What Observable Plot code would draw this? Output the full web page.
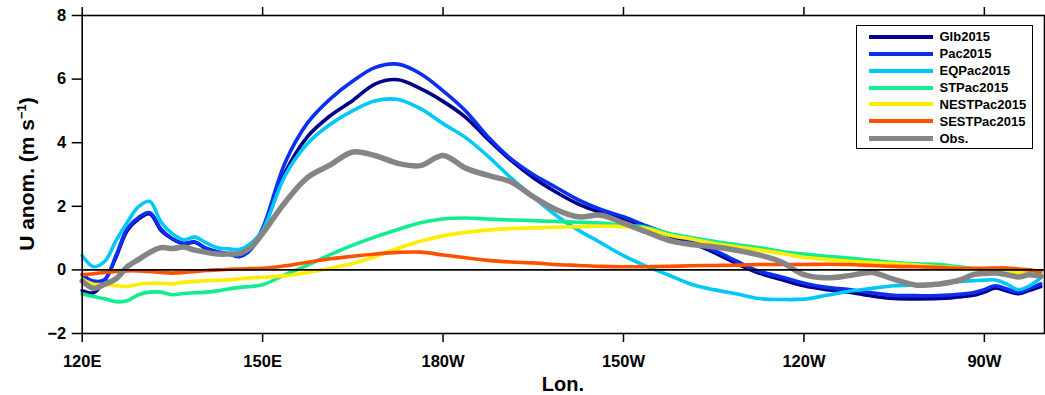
<!DOCTYPE html>
<html>
<head>
<meta charset="utf-8">
<script src="https://cdn.jsdelivr.net/npm/d3@7"></script>
<script src="https://cdn.jsdelivr.net/npm/@observablehq/plot@0.6"></script>
<style>
  body { margin: 0; background: #fff; }
  #wrap { position: relative; width: 1045px; height: 395px; font-family: "Liberation Sans", Arial, sans-serif; font-weight: bold; }
  #legend { position: absolute; left: 856px; top: 25px; width: 175px; height: 122px; border: 1.5px solid #000; background: #fff; }
  .row { position: absolute; left: 11.5px; height: 17px; display: flex; align-items: center; }
  .sw { width: 64px; height: 4px; margin-right: 7px; }
  .lb { font-size: 13px; color: #000; }
</style>
</head>
<body>
<div id="wrap"><div id="legend"></div></div>
<script>
const lon = [120, 121.875, 123.75, 125.625, 127.5, 129.375, 131.25, 133.125, 135, 136.875, 138.75, 140.625, 142.5, 144.375, 146.25, 148.125, 150,
  153.75, 157.5, 161.25, 165, 168.75, 172.5, 176.25, 180, 183.75, 187.5, 191.25, 195, 198.75, 202.5, 206.25, 210, 213.75, 217.5, 221.25, 225, 228.75, 232.5, 236.25, 240, 243.75, 247.5, 251.25, 255, 258.75, 262.5,
  264.375, 266.25, 268.125, 270, 271.875, 273.75, 275.625, 277.5, 279.375];

const glb2015 = [-0.65, -0.72, -0.34, 0.4, 1.24, 1.6, 1.76, 1.24, 0.97, 0.82, 0.87, 0.66, 0.55, 0.5, 0.45, 0.68, 1.3,
  3.07, 4.2, 4.85, 5.33, 5.85, 5.98, 5.7, 5.3, 4.8, 4.1, 3.45, 2.9, 2.45, 2.07, 1.8, 1.57, 1.33, 1.08, 0.85, 0.55, 0.2, -0.1, -0.3, -0.5, -0.62, -0.7, -0.82, -0.9, -0.91, -0.9,
  -0.88, -0.84, -0.8, -0.7, -0.57, -0.66, -0.75, -0.64, -0.52];
const pac2015 = [-0.15, -0.35, -0.3, 0.45, 1.3, 1.65, 1.8, 1.28, 0.98, 0.84, 0.88, 0.68, 0.57, 0.5, 0.42, 0.66, 1.3,
  3.38, 4.63, 5.38, 5.94, 6.37, 6.47, 6.17, 5.63, 5.0, 4.18, 3.5, 3.0, 2.6, 2.2, 1.9, 1.67, 1.39, 1.13, 0.9, 0.62, 0.28, -0.04, -0.22, -0.42, -0.55, -0.62, -0.72, -0.8, -0.81, -0.81,
  -0.79, -0.76, -0.72, -0.62, -0.5, -0.6, -0.7, -0.58, -0.44];
const eqpac2015 = [0.45, 0.1, 0.27, 0.92, 1.5, 1.99, 2.15, 1.5, 1.14, 0.95, 1.03, 0.85, 0.7, 0.66, 0.65, 0.85, 1.25,
  2.97, 3.98, 4.58, 5.01, 5.32, 5.36, 5.07, 4.6, 4.16, 3.57, 2.9, 2.3, 1.72, 1.25, 0.85, 0.45, 0.12, -0.16, -0.45, -0.62, -0.75, -0.9, -0.93, -0.92, -0.8, -0.67, -0.58, -0.5, -0.47, -0.44,
  -0.4, -0.36, -0.34, -0.32, -0.32, -0.45, -0.62, -0.5, -0.25];
const stpac2015 = [-0.75, -0.84, -0.91, -1.0, -0.97, -0.78, -0.7, -0.7, -0.78, -0.74, -0.72, -0.7, -0.66, -0.6, -0.55, -0.52, -0.47,
  -0.15, 0.15, 0.48, 0.78, 1.04, 1.27, 1.48, 1.6, 1.63, 1.6, 1.57, 1.55, 1.52, 1.5, 1.47, 1.4, 1.34, 1.15, 1.02, 0.9, 0.8, 0.7, 0.58, 0.5, 0.43, 0.37, 0.3, 0.23, 0.19, 0.17,
  0.13, 0.09, 0.04, 0.02, 0.0, -0.01, -0.02, -0.03, -0.05];
const nestpac2015 = [-0.3, -0.45, -0.46, -0.49, -0.52, -0.45, -0.42, -0.42, -0.44, -0.39, -0.36, -0.34, -0.33, -0.31, -0.28, -0.25, -0.23,
  -0.18, -0.08, 0.05, 0.2, 0.42, 0.68, 0.9, 1.07, 1.18, 1.25, 1.3, 1.32, 1.34, 1.36, 1.38, 1.36, 1.3, 1.1, 0.97, 0.83, 0.73, 0.63, 0.52, 0.4, 0.33, 0.27, 0.23, 0.2, 0.15, 0.1,
  0.08, 0.05, 0.02, -0.02, -0.07, -0.08, -0.09, -0.1, -0.1];
const sestpac2015 = [-0.15, -0.12, -0.08, -0.05, -0.03, -0.03, -0.05, -0.08, -0.1, -0.08, -0.05, -0.02, 0.0, 0.02, 0.03, 0.04, 0.05,
  0.13, 0.24, 0.35, 0.43, 0.5, 0.55, 0.56, 0.47, 0.38, 0.3, 0.25, 0.22, 0.17, 0.14, 0.11, 0.1, 0.1, 0.11, 0.13, 0.14, 0.15, 0.17, 0.17, 0.17, 0.18, 0.17, 0.14, 0.11, 0.1, 0.08,
  0.06, 0.05, 0.05, 0.05, 0.06, 0.06, 0.03, 0.0, -0.06];
const obs = [-0.35, -0.58, -0.45, -0.28, 0.1, 0.33, 0.55, 0.7, 0.67, 0.72, 0.62, 0.55, 0.5, 0.5, 0.52, 0.72, 1.15,
  2.13, 2.91, 3.3, 3.71, 3.59, 3.35, 3.28, 3.6, 3.2, 2.97, 2.77, 2.3, 1.9, 1.67, 1.72, 1.47, 1.2, 0.93, 0.8, 0.73, 0.62, 0.47, 0.25, -0.15, -0.25, -0.18, -0.08, -0.3, -0.48, -0.44,
  -0.39, -0.3, -0.15, -0.11, -0.1, -0.15, -0.22, -0.15, -0.2];

const seriesNames = ["Glb2015", "Pac2015", "EQPac2015", "STPac2015", "NESTPac2015", "SESTPac2015", "Obs."];
const seriesValues = [glb2015, pac2015, eqpac2015, stpac2015, nestpac2015, sestpac2015, obs];
const seriesColors = ["#00008B", "#0A2FF0", "#00C8FA", "#10EE90", "#FFEE00", "#FF5000", "#858585"];
const seriesWidths = [3.6, 3.6, 3.6, 3.6, 3.6, 3.6, 5.5];

const xTicks = [120, 150, 180, 210, 240, 270];
const xTickLabels = ["120E", "150E", "180W", "150W", "120W", "90W"];
const yTicks = [-2, 0, 2, 4, 6, 8];

const lineMarks = seriesValues.map((vals, k) =>
  Plot.line(lon.map((x, i) => ({x, y: vals[i]})), {
    x: "x", y: "y", stroke: seriesColors[k], strokeWidth: seriesWidths[k], curve: "catmull-rom"
  })
);

const svg = Plot.plot({
  width: 1045,
  height: 395,
  marginLeft: 81.7,
  marginRight: 1,
  marginTop: 15,
  marginBottom: 62,
  x: {domain: [120, 280]},
  y: {domain: [-2, 8]},
  style: {fontFamily: '"Liberation Sans", Arial, sans-serif', fontSize: "16.5px", fontWeight: "bold", color: "#000", background: "#fff"},
  marks: [
    ...lineMarks,
    Plot.ruleY([0], {stroke: "#000", strokeWidth: 1.6}),
    Plot.frame({stroke: "#000", strokeWidth: 1.6}),
    Plot.axisY({ticks: yTicks, tickSize: 10, tickPadding: 6, strokeWidth: 1.5, label: null,
      tickFormat: d => d < 0 ? "\u2212" + Math.abs(d) : String(d)}),
    Plot.axisX({ticks: xTicks, tickSize: 9, tickPadding: 13, strokeWidth: 1.5, label: null,
      tickFormat: d => xTickLabels[xTicks.indexOf(d)]}),
    Plot.axisX({anchor: "top", ticks: xTicks, tickSize: 9, strokeWidth: 1.5, label: null, tickFormat: () => ""})
  ]
});

const s = d3.select(svg);
const yt = s.append("text")
  .attr("transform", "translate(33.5,174) rotate(-90)")
  .attr("text-anchor", "middle")
  .attr("font-size", 21).attr("font-weight", "bold").attr("fill", "#000");
yt.append("tspan").text("U anom. (m s");
yt.append("tspan").attr("font-size", 13).attr("dy", -8).text("\u22121");
yt.append("tspan").attr("dy", 8).text(")");
s.append("text")
  .attr("x", 562.9).attr("y", 391)
  .attr("text-anchor", "middle")
  .attr("font-size", 20).attr("font-weight", "bold").attr("fill", "#000")
  .text("Lon.");

const wrap = document.getElementById("wrap");
wrap.insertBefore(svg, wrap.firstChild);

const legend = document.getElementById("legend");
seriesNames.forEach((name, k) => {
  const row = document.createElement("div");
  row.className = "row";
  row.style.top = (2.3 + 16.9 * k) + "px";
  const sw = document.createElement("div");
  sw.className = "sw";
  sw.style.background = seriesColors[k];
  if (k === 6) sw.style.height = "5px";
  const lb = document.createElement("span");
  lb.className = "lb";
  lb.textContent = name;
  row.appendChild(sw);
  row.appendChild(lb);
  legend.appendChild(row);
});
</script>
</body>
</html>
